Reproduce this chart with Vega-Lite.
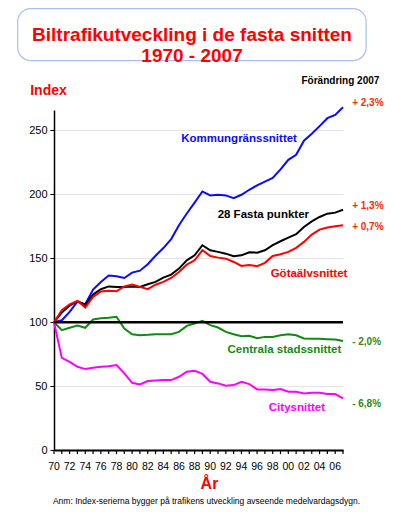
{
  "$schema": "https://vega.github.io/schema/vega-lite/v6.json",
  "padding": {"left": 17, "top": 8, "right": 0, "bottom": 0},
  "width": 289,
  "height": 340,
  "config": {"font": "Liberation Sans", "view": {"stroke": null}},
  "title": {"text": "Anm: Index-serierna bygger på trafikens utveckling avseende medelvardagsdygn.", "orient": "bottom", "anchor": "middle", "fontSize": 8.5, "fontWeight": "normal", "color": "black", "offset": 6, "dx": 8},
  "datasets": {
    "index": [
      {"ar": 1970, "kommun": 100, "fasta": 100, "gota": 100, "centrala": 100, "city": 100},
      {"ar": 1971, "kommun": 101.5, "fasta": 107.5, "gota": 109.4, "centrala": 93.8, "city": 72.1},
      {"ar": 1972, "kommun": 108, "fasta": 113, "gota": 114, "centrala": 95.6, "city": 69},
      {"ar": 1973, "kommun": 116, "fasta": 116.4, "gota": 116.7, "centrala": 97.4, "city": 65.1},
      {"ar": 1974, "kommun": 114, "fasta": 113.3, "gota": 111.4, "centrala": 95.6, "city": 63.3},
      {"ar": 1975, "kommun": 125.5, "fasta": 121.6, "gota": 119.8, "centrala": 102.1, "city": 64.3},
      {"ar": 1976, "kommun": 131.5, "fasta": 125.8, "gota": 124, "centrala": 103.1, "city": 65.1},
      {"ar": 1977, "kommun": 136.5, "fasta": 128, "gota": 124.5, "centrala": 103.4, "city": 65.6},
      {"ar": 1978, "kommun": 136, "fasta": 127.6, "gota": 124.2, "centrala": 104.2, "city": 66.4},
      {"ar": 1979, "kommun": 134.6, "fasta": 127.6, "gota": 128, "centrala": 95.1, "city": 59.9},
      {"ar": 1980, "kommun": 138.8, "fasta": 128, "gota": 129.4, "centrala": 90.6, "city": 52.6},
      {"ar": 1981, "kommun": 140.3, "fasta": 127.6, "gota": 127.6, "centrala": 89.8, "city": 51.3},
      {"ar": 1982, "kommun": 145.3, "fasta": 129.7, "gota": 125.8, "centrala": 90.1, "city": 53.9},
      {"ar": 1983, "kommun": 152, "fasta": 131.5, "gota": 129.3, "centrala": 90.6, "city": 54.4},
      {"ar": 1984, "kommun": 158, "fasta": 134.9, "gota": 131.5, "centrala": 90.6, "city": 54.7},
      {"ar": 1985, "kommun": 165, "fasta": 137.2, "gota": 134.6, "centrala": 90.6, "city": 54.7},
      {"ar": 1986, "kommun": 175.8, "fasta": 141.9, "gota": 139.3, "centrala": 92.4, "city": 57.3},
      {"ar": 1987, "kommun": 185, "fasta": 148.4, "gota": 145, "centrala": 97.1, "city": 61.2},
      {"ar": 1988, "kommun": 193.5, "fasta": 152.3, "gota": 148.4, "centrala": 99, "city": 62},
      {"ar": 1989, "kommun": 202.3, "fasta": 160.2, "gota": 156.3, "centrala": 101, "city": 59.5},
      {"ar": 1990, "kommun": 199.2, "fasta": 156.3, "gota": 151.8, "centrala": 97.7, "city": 53.4},
      {"ar": 1991, "kommun": 199.7, "fasta": 155, "gota": 150.5, "centrala": 95.8, "city": 52.1},
      {"ar": 1992, "kommun": 199.2, "fasta": 153.6, "gota": 149.7, "centrala": 92.4, "city": 50.3},
      {"ar": 1993, "kommun": 197, "fasta": 151.6, "gota": 147.1, "centrala": 90.6, "city": 50.8},
      {"ar": 1994, "kommun": 199.7, "fasta": 152.3, "gota": 144, "centrala": 89, "city": 53.4},
      {"ar": 1995, "kommun": 203.6, "fasta": 154.7, "gota": 144.8, "centrala": 89.3, "city": 51.6},
      {"ar": 1996, "kommun": 207, "fasta": 154.4, "gota": 143.8, "centrala": 87.5, "city": 47.4},
      {"ar": 1997, "kommun": 210, "fasta": 156.3, "gota": 146.4, "centrala": 88.5, "city": 47.4},
      {"ar": 1998, "kommun": 212.8, "fasta": 160.2, "gota": 151.8, "centrala": 88.5, "city": 46.9},
      {"ar": 1999, "kommun": 219.5, "fasta": 163.3, "gota": 153.1, "centrala": 89.8, "city": 47.7},
      {"ar": 2000, "kommun": 227, "fasta": 166.2, "gota": 155, "centrala": 90.6, "city": 45.6},
      {"ar": 2001, "kommun": 231, "fasta": 168.8, "gota": 158.1, "centrala": 89.8, "city": 45.6},
      {"ar": 2002, "kommun": 242, "fasta": 174.5, "gota": 162.8, "centrala": 87.2, "city": 44.3},
      {"ar": 2003, "kommun": 247.4, "fasta": 178.9, "gota": 168.5, "centrala": 87, "city": 44.8},
      {"ar": 2004, "kommun": 253.4, "fasta": 182.3, "gota": 172.4, "centrala": 87, "city": 44.8},
      {"ar": 2005, "kommun": 259.6, "fasta": 184.9, "gota": 174, "centrala": 86.7, "city": 43.8},
      {"ar": 2006, "kommun": 262.2, "fasta": 185.7, "gota": 175, "centrala": 86.5, "city": 43.8},
      {"ar": 2007, "kommun": 268.2, "fasta": 188, "gota": 175.8, "centrala": 85.2, "city": 40.3}
    ]
  },
  "layer": [
    {
      "data": {"name": "index"},
      "transform": [{"fold": ["kommun", "fasta", "gota", "centrala", "city"], "as": ["serie", "index"]}],
      "mark": {"type": "line", "strokeWidth": 2},
      "encoding": {
        "x": {
          "field": "ar", "type": "quantitative",
          "scale": {"domain": [1970, 2007], "nice": false, "zero": false},
          "axis": {
            "title": "År",
            "values": [1970, 1980, 1990, 2000],
            "labels": false, "ticks": false,
            "grid": false, "domainColor": "black", "domainWidth": 2,
            "titleColor": "#ff0000", "titleFontSize": 16, "titleFontWeight": "bold",
            "titleX": 155, "titleY": 33, "titleAlign": "center", "titleBaseline": "middle"
          }
        },
        "y": {
          "field": "index", "type": "quantitative",
          "scale": {"domain": [0, 266], "nice": false},
          "axis": {
            "title": "Index", "values": [0, 50, 100, 150, 200, 250],
            "grid": true, "gridColor": "#e4e4e4", "gridWidth": 1,
            "domainColor": "black", "domainWidth": 1.5,
            "tickColor": "black", "tickSize": 4,
            "labelFontSize": 11, "labelColor": "black", "labelPadding": 3,
            "titleAngle": 0, "titleX": -6, "titleY": -20, "titleAlign": "center", "titleBaseline": "middle",
            "titleColor": "#ff0000", "titleFontSize": 14, "titleFontWeight": "bold"
          }
        },
        "color": {
          "field": "serie", "type": "nominal",
          "scale": {"domain": ["kommun", "fasta", "gota", "centrala", "city"], "range": ["#0a0aff", "#000000", "#ff0000", "#128a12", "#ff00ff"]},
          "legend": null
        }
      }
    },
    {
      "data": {"values": [{}]},
      "mark": {"type": "rule", "strokeWidth": 2.5, "color": "black"},
      "encoding": {"y": {"datum": 100}}
    },
    {
      "data": {"name": "index"},
      "mark": {"type": "rule", "strokeWidth": 1.2, "color": "black"},
      "encoding": {"x": {"field": "ar", "type": "quantitative"}, "y": {"datum": 0}, "y2": {"datum": -3.2}}
    },
    {
      "data": {"name": "index"},
      "transform": [{"filter": "datum.ar % 2 == 0"}, {"calculate": "substring(toString(datum.ar), 2)", "as": "etikett"}],
      "mark": {"type": "text", "fontSize": 10.5, "color": "black", "align": "center", "baseline": "middle", "dy": 17},
      "encoding": {"x": {"field": "ar", "type": "quantitative"}, "y": {"datum": 0}, "text": {"field": "etikett"}}
    },
    {
      "data": {"values": [{}]},
      "mark": {"type": "rect", "cornerRadius": 13, "fill": "white", "stroke": "#a8c0f0", "strokeWidth": 1.2},
      "encoding": {"x": {"datum": 1965.35}, "x2": {"datum": 2009.96}, "y": {"datum": 345.3}, "y2": {"datum": 304.7}}
    },
    {
      "data": {"values": [{}]},
      "mark": {"type": "text", "lineBreak": "\n", "fontSize": 19, "fontWeight": "bold", "color": "#ff0000", "lineHeight": 21, "align": "center", "baseline": "middle"},
      "encoding": {"x": {"datum": 1987.67}, "y": {"datum": 324.5}, "text": {"value": "Biltrafikutveckling i de fasta snitten\n1970 - 2007"}}
    },
    {
      "data": {"values": [{}]},
      "mark": {"type": "text", "fontWeight": "bold", "fontSize": 11.5, "color": "#0a0aff", "align": "center", "baseline": "middle"},
      "encoding": {"x": {"datum": 1993.7}, "y": {"datum": 243}, "text": {"value": "Kommungränssnittet"}}
    },
    {
      "data": {"values": [{}]},
      "mark": {"type": "text", "fontWeight": "bold", "fontSize": 11.5, "color": "#000000", "align": "center", "baseline": "middle"},
      "encoding": {"x": {"datum": 1996.8}, "y": {"datum": 183.6}, "text": {"value": "28 Fasta punkter"}}
    },
    {
      "data": {"values": [{}]},
      "mark": {"type": "text", "fontWeight": "bold", "fontSize": 11.5, "color": "#ff0000", "align": "center", "baseline": "middle"},
      "encoding": {"x": {"datum": 2002.65}, "y": {"datum": 137.5}, "text": {"value": "Götaälvsnittet"}}
    },
    {
      "data": {"values": [{}]},
      "mark": {"type": "text", "fontWeight": "bold", "fontSize": 11.5, "color": "#128a12", "align": "center", "baseline": "middle"},
      "encoding": {"x": {"datum": 1999.5}, "y": {"datum": 78.1}, "text": {"value": "Centrala stadssnittet"}}
    },
    {
      "data": {"values": [{}]},
      "mark": {"type": "text", "fontWeight": "bold", "fontSize": 11.5, "color": "#ff00ff", "align": "center", "baseline": "middle"},
      "encoding": {"x": {"datum": 2001.1}, "y": {"datum": 32.8}, "text": {"value": "Citysnittet"}}
    },
    {
      "data": {"values": [{}]},
      "mark": {"type": "text", "fontWeight": "bold", "fontSize": 10, "color": "#000000", "align": "center", "baseline": "middle"},
      "encoding": {"x": {"datum": 2006.67}, "y": {"datum": 289}, "text": {"value": "Förändring 2007"}}
    },
    {
      "data": {"values": [{}]},
      "mark": {"type": "text", "fontWeight": "bold", "fontSize": 10, "color": "#ff2a00", "align": "left", "baseline": "middle"},
      "encoding": {"x": {"datum": 2008.17}, "y": {"datum": 271.1}, "text": {"value": "+ 2,3%"}}
    },
    {
      "data": {"values": [{}]},
      "mark": {"type": "text", "fontWeight": "bold", "fontSize": 10, "color": "#ff2a00", "align": "left", "baseline": "middle"},
      "encoding": {"x": {"datum": 2008.17}, "y": {"datum": 190.6}, "text": {"value": "+ 1,3%"}}
    },
    {
      "data": {"values": [{}]},
      "mark": {"type": "text", "fontWeight": "bold", "fontSize": 10, "color": "#ff2a00", "align": "left", "baseline": "middle"},
      "encoding": {"x": {"datum": 2008.17}, "y": {"datum": 174.5}, "text": {"value": "+ 0,7%"}}
    },
    {
      "data": {"values": [{}]},
      "mark": {"type": "text", "fontWeight": "bold", "fontSize": 10, "color": "#2d8a14", "align": "left", "baseline": "middle"},
      "encoding": {"x": {"datum": 2008.17}, "y": {"datum": 84.6}, "text": {"value": "- 2,0%"}}
    },
    {
      "data": {"values": [{}]},
      "mark": {"type": "text", "fontWeight": "bold", "fontSize": 10, "color": "#2d8a14", "align": "left", "baseline": "middle"},
      "encoding": {"x": {"datum": 2008.17}, "y": {"datum": 35.9}, "text": {"value": "- 6,8%"}}
    }
  ]
}
